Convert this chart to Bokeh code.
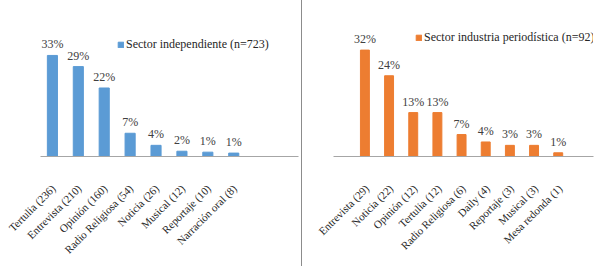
import math
from bokeh.plotting import figure
from bokeh.models import (ColumnDataSource, Legend, LegendItem, Range1d, FixedTicker, Div,
                          LinearAxis)
from bokeh.layouts import row
from bokeh.core.properties import value
from bokeh.embed import file_html
from bokeh.resources import INLINE

# Left panel: Sector independiente (n=723)
left_categories = ["Tertulia (236)", "Entrevista (210)", "Opinión (160)", "Radio Religiosa (54)",
                   "Noticia (26)", "Musical (12)", "Reportaje (10)", "Narración oral (8)"]
left_values = [32.6, 29.0, 22.1, 7.5, 3.6, 1.7, 1.4, 1.1]
left_labels = ["33%", "29%", "22%", "7%", "4%", "2%", "1%", "1%"]
left_series = "Sector independiente (n=723)"

# Right panel: Sector industria periodística (n=92)
right_categories = ["Entrevista (29)", "Noticia (22)", "Opinión (12)", "Tertulia (12)",
                    "Radio Religiosa (6)", "Daily (4)", "Reportaje (3)", "Musical (3)", "Mesa redonda (1)"]
right_values = [31.5, 23.9, 13.0, 13.0, 6.5, 4.3, 3.3, 3.3, 1.1]
right_labels = ["32%", "24%", "13%", "13%", "7%", "4%", "3%", "3%", "1%"]
right_series = "Sector industria periodística (n=92)"

FONT = "Liberation Serif"
H = 266


def panel(cats, vals, labs, name, color, width, xr, yr, borders, bar_w, leg_loc,
          lab_shift_px, standoff):
    idx = list(range(len(cats)))
    src = ColumnDataSource(dict(x=idx, top=vals, lab=labs))
    p = figure(width=width, height=H, output_backend="svg", toolbar_location=None,
               x_range=Range1d(*xr), y_range=Range1d(*yr), x_axis_location=None)
    p.min_border_left, p.min_border_right, p.min_border_top, p.min_border_bottom = borders
    p.outline_line_color = None
    p.xgrid.grid_line_color = None
    p.ygrid.grid_line_color = None
    p.yaxis.visible = False
    r = p.vbar(x="x", top="top", width=bar_w, bottom=0, source=src, color=color)
    p.text(x="x", y="top", text="lab", source=src, text_align="center", text_baseline="bottom",
           y_offset=-4, text_font=value(FONT), text_font_size="12px", text_color="#404040")
    # category label axis: a shifted copy of the x range so rotated labels end under their bars
    frame_w = width - borders[0] - borders[1]
    shift = lab_shift_px * (xr[1] - xr[0]) / frame_w
    p.extra_x_ranges = {"lab": Range1d(xr[0] - shift, xr[1] - shift)}
    ax = LinearAxis(x_range_name="lab", ticker=FixedTicker(ticks=idx),
                    major_label_overrides={i: c for i, c in enumerate(cats)})
    ax.major_label_orientation = math.pi / 4
    ax.major_tick_line_color = None
    ax.minor_tick_line_color = None
    ax.axis_line_color = "#a6a6a6"
    ax.major_label_text_font = FONT
    ax.major_label_text_font_size = "11px"
    ax.major_label_text_color = "#262626"
    ax.major_label_standoff = standoff
    p.add_layout(ax, "below")
    leg = Legend(items=[LegendItem(label=name, renderers=[r])], location=leg_loc,
                 padding=0, margin=0, spacing=0, glyph_width=7, glyph_height=7,
                 label_standoff=2, label_height=12, border_line_color=None,
                 background_fill_alpha=0, label_text_font=FONT, label_text_font_size="12px",
                 label_text_color="#262626")
    p.add_layout(leg, "center")
    return p


p1 = panel(left_categories, left_values, left_labels, left_series, "#5B9BD5",
           301, (-0.46, 9.5), (0, 156 / 3.1), (40, 3, 0, H - 156), 0.39, (77, 104), 1, 24)
p2 = panel(right_categories, right_values, right_labels, right_series, "#ED7D31",
           297, (-1.30, 9.46), (0, 163 / 3.53), (31, 6, 0, H - 163), 0.37, (82, 111), 2, 24)

divider = Div(width=1, height=H, margin=0, styles={"background-color": "#8c8c8c"})
layout = row(p1, divider, p2, spacing=0)

open("out.html", "w").write(file_html(layout, INLINE))
